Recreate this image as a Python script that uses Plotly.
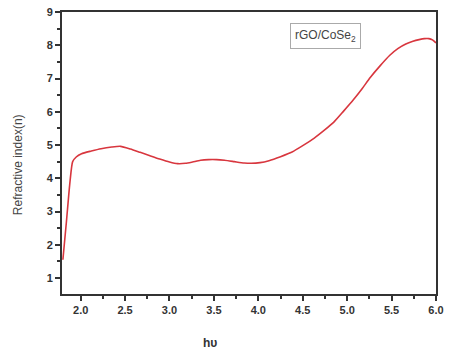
import plotly.graph_objects as go

energy = [1.80, 1.84, 1.88, 1.91, 1.95, 2.01, 2.12, 2.23, 2.35, 2.45, 2.56, 2.67, 2.78, 2.89, 3.00, 3.09, 3.18, 3.26, 3.35, 3.44, 3.53, 3.62, 3.73, 3.84, 3.92, 4.02, 4.12, 4.25, 4.38, 4.50, 4.63, 4.74, 4.85, 4.96, 5.07, 5.17, 5.26, 5.37, 5.48, 5.57, 5.66, 5.74, 5.81, 5.87, 5.92, 5.96, 6.00]
n_index = [1.55, 2.7, 3.9, 4.5, 4.64, 4.74, 4.82, 4.89, 4.94, 4.96, 4.88, 4.78, 4.68, 4.58, 4.49, 4.44, 4.45, 4.49, 4.54, 4.56, 4.56, 4.54, 4.50, 4.46, 4.45, 4.47, 4.53, 4.65, 4.79, 4.98, 5.21, 5.44, 5.69, 6.02, 6.36, 6.70, 7.03, 7.38, 7.70, 7.90, 8.04, 8.12, 8.17, 8.20, 8.20, 8.16, 8.07]

y_ticks = [1, 2, 3, 4, 5, 6, 7, 8, 9]
x_ticks = [2.0, 2.5, 3.0, 3.5, 4.0, 4.5, 5.0, 5.5, 6.0]
x_labels = ["2.0", "2.5", "3.0", "3.5", "4.0", "4.5", "5.0", "5.5", "6.0"]

fig = go.Figure()
fig.add_trace(go.Scatter(x=energy, y=n_index, mode="lines",
                         line=dict(color="#d8363e", width=1.6, shape="spline", smoothing=0.6),
                         showlegend=False, hoverinfo="skip"))

axis_common = dict(showline=True, linecolor="#333333", linewidth=2, mirror=True,
                   showgrid=False, zeroline=False, ticks="outside", ticklen=5, tickwidth=1.5,
                   tickcolor="#333333", ticklabeloverflow="allow",
                   tickfont=dict(family="Liberation Sans, Arial", size=11, color="#333333", weight="bold"))

fig.update_xaxes(range=[1.79, 6.0], tickvals=x_ticks, ticktext=x_labels,
                 minor=dict(dtick=0.25, tick0=2.0, ticks="outside", ticklen=3, tickcolor="#333333", tickwidth=1.5),
                 **axis_common)
fig.update_yaxes(range=[0.52, 9.0], tickvals=y_ticks,
                 minor=dict(dtick=0.5, tick0=0.5, ticks="outside", ticklen=3, tickcolor="#333333", tickwidth=1.5),
                 **axis_common)

fig.add_annotation(text="Refractive index(n)", xref="paper", yref="paper", x=-0.118, y=0.46,
                   xanchor="center", yanchor="middle",
                   textangle=-90, showarrow=False,
                   font=dict(family="Liberation Sans, Arial", size=12, color="#444444"))
fig.add_annotation(text="<b>h\u03c5</b>", xref="paper", yref="paper", x=0.395, y=-0.175,
                   showarrow=False, yanchor="middle",
                   font=dict(family="Liberation Sans, Arial", size=12, color="#333333"))
fig.add_annotation(text="rGO/CoSe<sub>2</sub>", xref="paper", yref="paper", x=0.704, y=0.96,
                   xanchor="center", yanchor="top", showarrow=False,
                   bordercolor="#aaaaaa", borderwidth=1, borderpad=4, bgcolor="white",
                   font=dict(family="Liberation Sans, Arial", size=12, color="#444444"))

fig.update_layout(width=449, height=352, margin=dict(l=62, r=5, t=12, b=58),
                  plot_bgcolor="white", paper_bgcolor="white")
fig.write_html("out.html")
